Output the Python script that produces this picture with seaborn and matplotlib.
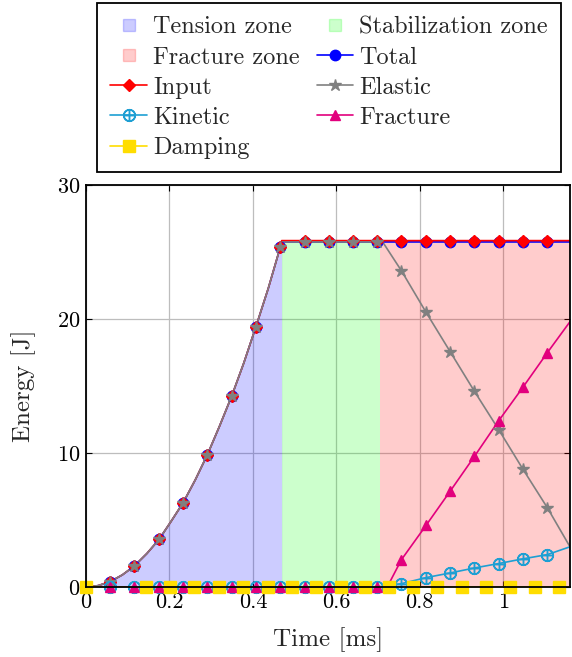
import matplotlib
matplotlib.use("Agg")
import matplotlib.pyplot as plt
import seaborn as sns
import numpy as np
import pandas as pd
from matplotlib.lines import Line2D

# ---------------- data ----------------
time = [0.0, 0.058, 0.116, 0.175, 0.233, 0.291, 0.349, 0.407, 0.466, 0.524,
        0.582, 0.640, 0.698, 0.756, 0.815, 0.873, 0.931, 0.989, 1.047, 1.106]
total = [0.0, 0.4, 1.57, 3.55, 6.3, 9.88, 14.23, 19.4, 25.4, 25.75,
         25.75, 25.75, 25.75, 25.75, 25.75, 25.75, 25.75, 25.75, 25.75, 25.75]
inp = [0.0, 0.4, 1.57, 3.55, 6.3, 9.88, 14.23, 19.4, 25.4, 25.85,
       25.85, 25.85, 25.85, 25.85, 25.85, 25.85, 25.85, 25.85, 25.85, 25.85]
elastic = [0.0, 0.4, 1.57, 3.55, 6.3, 9.88, 14.23, 19.4, 25.4, 25.75,
           25.75, 25.75, 25.75, 23.6, 20.5, 17.55, 14.6, 11.75, 8.8, 5.9]
kinetic = [0.0, 0.0, 0.0, 0.0, 0.0, 0.0, 0.0, 0.0, 0.0, 0.0,
           0.0, 0.0, 0.0, 0.25, 0.7, 1.05, 1.42, 1.75, 2.1, 2.42]
fracture = [0.0, 0.0, 0.0, 0.0, 0.0, 0.0, 0.0, 0.0, 0.0, 0.0,
            0.0, 0.0, 0.0, 2.04, 4.6, 7.16, 9.75, 12.4, 14.9, 17.5]

# in-between samples of the loading curve (line only, no marks)
ramp_time = [0.029, 0.087, 0.146, 0.204, 0.262, 0.320, 0.378, 0.437]
ramp_energy = [0.1, 0.9, 2.5, 4.9, 8.0, 12.0, 16.7, 22.3]

# extra line-only points: turning points and the end of the record
t_end = 1.16
total_end, inp_end, elastic_end, kinetic_end, fracture_end = 25.75, 25.85, 3.0, 3.0, 19.8
t_tension_end = 0.469
t_elastic_break = 0.711
t_fracture_start = 0.722

damping_time = [0.0, 0.144, 0.202, 0.260, 0.319, 0.377, 0.435, 0.493, 0.551, 0.610,
                0.668, 0.726, 0.784, 0.842, 0.901, 0.959, 1.017, 1.075, 1.133]
damping = [0.0] * len(damping_time)

zone_bounds = [0.0, 0.469, 0.704, 1.16]
zone_top = 25.8
zone_names = ["Tension zone", "Stabilization zone", "Fracture zone"]
zone_colors = ["blue", "#00ff00", "red"]

xticks = [0, 0.2, 0.4, 0.6, 0.8, 1.0]
xticklabels = ["0", "0.2", "0.4", "0.6", "0.8", "1"]
yticks = [0, 10, 20, 30]

# ---------------- style ----------------
sns.set_theme(style="white")
plt.rcParams["font.family"] = ["cmr10", "DejaVu Serif"]
plt.rcParams["mathtext.fontset"] = "cm"
plt.rcParams["axes.formatter.use_mathtext"] = True

fig = plt.figure(figsize=(5.72, 6.57), dpi=100)
ax = fig.add_axes([86 / 572, 1 - 587 / 657, 484 / 572, 402 / 657])


def merged(tvals, yvals, extra):
    d = dict(zip(tvals, yvals))
    for k, v in extra:
        d[k] = v
    ks = sorted(d)
    return pd.DataFrame({"t": ks, "y": [d[k] for k in ks]})


ramp_pts = list(zip(ramp_time, ramp_energy))

# zones
tz = merged([t for t in time if t <= t_tension_end],
            [v for t, v in zip(time, total) if t <= t_tension_end],
            ramp_pts + [(t_tension_end, zone_top)])
ax.fill_between(tz["t"], 0, tz["y"], color=zone_colors[0], alpha=0.2, lw=0, zorder=1)
ax.fill_between([zone_bounds[1], zone_bounds[2]], 0, zone_top, color=zone_colors[1], alpha=0.2, lw=0, zorder=1)
ax.fill_between([zone_bounds[2], zone_bounds[3]], 0, zone_top, color=zone_colors[2], alpha=0.2, lw=0, zorder=1)

series = [
    ("Total", time, total, ramp_pts + [(t_tension_end, total_end), (t_end, total_end)], "blue", "o", 7.5),
    ("Input", time, inp, ramp_pts + [(t_tension_end, inp_end), (t_end, inp_end)], "red", "D", 6),
    ("Elastic", time, elastic,
     ramp_pts + [(t_tension_end, total_end), (t_elastic_break, total_end), (t_end, elastic_end)],
     "#808080", "*", 9),
    ("Kinetic", time, kinetic, [(t_end, kinetic_end)], "#1E9FD3", r"$\oplus$", 8.5),
    ("Fracture", time, fracture, [(t_fracture_start, 0.0), (t_end, fracture_end)], "#E2007D", "^", 7.5),
]

handles = {}
for name, tv, yv, extra, col, mk, ms in series:
    line_df = merged(tv, yv, extra)
    sns.lineplot(data=line_df, x="t", y="y", color=col, lw=1.2, ax=ax, zorder=3, legend=False)
    mdf = pd.DataFrame({"t": tv, "y": yv})
    ax.plot(mdf["t"], mdf["y"], ls="none", marker=mk, ms=ms, color=col, mec=col, zorder=4, clip_on=False)
    handles[name] = Line2D([], [], color=col, lw=1.2, marker=mk, ms=ms, mec=col)

ddf = pd.DataFrame({"t": damping_time + [t_end], "y": damping + [0.0]})
sns.lineplot(data=ddf, x="t", y="y", color="#FFDD00", lw=1.2, ax=ax, zorder=3, legend=False)
ax.plot(damping_time, damping, ls="none", marker="s", ms=8, color="#FFDD00", zorder=5, clip_on=False)
handles["Damping"] = Line2D([], [], color="#FFDD00", lw=1.2, marker="s", ms=8)

zone_handles = [Line2D([], [], ls="none", marker="s", ms=8, color=c, alpha=0.2) for c in zone_colors]

ax.set_xlim(0, 1.16)
ax.set_ylim(0, 30)
ax.set_xticks(xticks)
ax.set_xticklabels(xticklabels)
ax.set_yticks(yticks)
ax.grid(True, color="#bdbdbd", lw=0.9)
for gl in ax.get_xgridlines() + ax.get_ygridlines():
    gl.set_zorder(2)
for s in ax.spines.values():
    s.set_color("black")
    s.set_linewidth(1.3)
    s.set_zorder(6)
ax.tick_params(axis="both", direction="in", length=4, width=0.8, colors="black",
               labelsize=16, top=True, right=True, bottom=True, left=True, labelcolor="black", pad=4)
ax.set_xlabel("Time [ms]", fontsize=18, labelpad=11)
ax.set_ylabel("Energy [J]", fontsize=18, labelpad=15)

order_h = [zone_handles[0], zone_handles[2], handles["Input"], handles["Kinetic"], handles["Damping"],
           zone_handles[1], handles["Total"], handles["Elastic"], handles["Fracture"]]
order_l = ["Tension zone", "Fracture zone", "Input", "Kinetic", "Damping",
           "Stabilization zone", "Total", "Elastic", "Fracture"]
leg = fig.legend(order_h, order_l, ncol=2, loc="upper left", bbox_to_anchor=(97 / 572, 1 - 3 / 657),
                 fontsize=17.5, frameon=True, fancybox=False, edgecolor="black", framealpha=1,
                 handlelength=1.5, handletextpad=0.25, columnspacing=0.7, labelspacing=0.33,
                 borderpad=0.55, borderaxespad=0)
leg.get_frame().set_linewidth(1.3)

fig.savefig("out.png", dpi=100)
